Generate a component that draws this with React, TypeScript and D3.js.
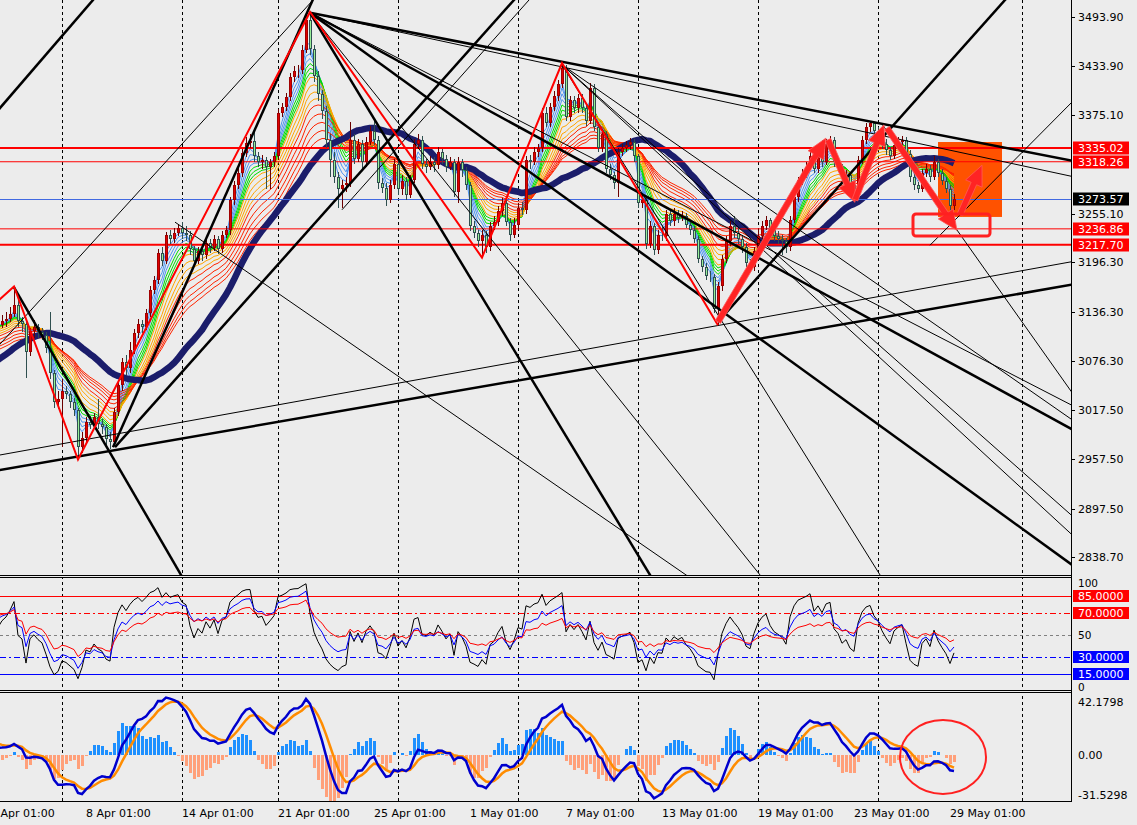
import React, { useEffect, useRef } from 'react';
import * as d3 from 'd3';

// XAUUSD H4, bar 0 = 2 Apr 13:00, last bar = 29 May 05:00
const warmupCloses = [
  3022, 3025, 3015, 3010, 3012, 3016, 3015, 3020, 3025, 3018, 3022, 3019,
  3022, 3018, 3020, 3016, 3019, 3020, 3024, 3030, 3040, 3055, 3052, 3057,
  3060, 3068, 3075, 3080, 3086, 3084, 3095, 3104, 3112, 3120, 3124, 3123,
  3135, 3146, 3130, 3118, 3112, 3114, 3116, 3120,
];

const closes = [
  3125, 3128, 3134, 3145, 3125, 3122, 3088, 3113, 3118, 3112,
  3108, 3092, 3062, 3027, 3030, 3040, 3036, 3027, 3017, 2972,
  2983, 3003, 2999, 3008, 3000, 2996, 2982, 2978, 3015, 3048,
  3075, 3068, 3090, 3110, 3122, 3118, 3135, 3163, 3175, 3208,
  3198, 3229, 3224, 3232, 3238, 3232, 3230, 3212, 3198, 3210,
  3205, 3220, 3214, 3225, 3212, 3230, 3235, 3272, 3290, 3305,
  3329, 3341, 3343, 3325, 3318, 3320, 3312, 3318, 3325, 3377,
  3385, 3397, 3421, 3428, 3430, 3454, 3490, 3455, 3422, 3400,
  3380, 3345, 3320, 3300, 3285, 3290, 3292, 3345, 3322, 3340,
  3318, 3342, 3355, 3345, 3292, 3287, 3272, 3290, 3315, 3285,
  3295, 3278, 3296, 3340, 3345, 3315, 3312, 3318, 3314, 3330,
  3322, 3312, 3318, 3282, 3318, 3308, 3290, 3240, 3232, 3222,
  3230, 3215, 3240, 3245, 3258, 3268, 3245, 3230, 3242, 3262,
  3260, 3320, 3318, 3330, 3335, 3378, 3365, 3385, 3398, 3412,
  3432, 3373, 3393, 3383, 3395, 3383, 3368, 3408, 3360, 3335,
  3352, 3310, 3302, 3292, 3330, 3335, 3338, 3342, 3325, 3268,
  3272, 3218, 3240, 3211, 3230, 3228, 3255, 3246, 3255, 3250,
  3253, 3242, 3236, 3225, 3200, 3190, 3180, 3178, 3140, 3167,
  3200, 3222, 3240, 3232, 3225, 3215, 3195, 3190, 3210, 3228,
  3240, 3247, 3235, 3228, 3225, 3222, 3215, 3248, 3275, 3296,
  3304, 3312, 3325, 3310, 3324, 3318, 3340, 3345, 3318, 3312,
  3298, 3302, 3290, 3285, 3320, 3345, 3360, 3365, 3355, 3350,
  3340, 3332, 3325, 3338, 3342, 3345, 3328, 3300, 3290, 3285,
  3305, 3310, 3300, 3318, 3305, 3295, 3285, 3264, 3273.57,
];

const highs = [
  3132, 3136, 3142, 3167, 3150, 3130, 3125, 3117, 3126, 3122,
  3116, 3112, 3136, 3066, 3040, 3055, 3046, 3040, 3032, 3020,
  2990, 3008, 3010, 3014, 3030, 3006, 3000, 2990, 3020, 3052,
  3080, 3084, 3099, 3115, 3128, 3126, 3140, 3168, 3180, 3212,
  3215, 3233, 3235, 3238, 3242, 3245, 3240, 3234, 3216, 3215,
  3216, 3226, 3224, 3230, 3228, 3234, 3240, 3276, 3295, 3312,
  3334, 3348, 3352, 3357, 3330, 3326, 3324, 3322, 3330, 3382,
  3390, 3402, 3426, 3434, 3436, 3460, 3500, 3500, 3460, 3428,
  3405, 3386, 3352, 3330, 3306, 3296, 3300, 3367, 3352, 3346,
  3345, 3348, 3362, 3370, 3350, 3298, 3292, 3296, 3322, 3320,
  3302, 3300, 3302, 3346, 3352, 3350, 3322, 3325, 3324, 3336,
  3334, 3326, 3324, 3322, 3324, 3322, 3312, 3294, 3246, 3236,
  3236, 3234, 3245, 3252, 3264, 3274, 3272, 3250, 3250, 3268,
  3270, 3325, 3326, 3336, 3340, 3383, 3385, 3390, 3404, 3418,
  3438, 3436, 3398, 3398, 3400, 3400, 3388, 3414, 3412, 3365,
  3358, 3356, 3316, 3306, 3335, 3340, 3344, 3347, 3346, 3328,
  3280, 3276, 3246, 3244, 3236, 3240, 3260, 3260, 3262, 3260,
  3258, 3256, 3246, 3240, 3228, 3204, 3195, 3186, 3182, 3172,
  3205, 3228, 3246, 3252, 3238, 3230, 3220, 3200, 3215, 3236,
  3246, 3252, 3250, 3240, 3234, 3230, 3226, 3252, 3280, 3300,
  3310, 3318, 3332, 3330, 3330, 3345, 3346, 3350, 3348, 3322,
  3316, 3308, 3306, 3294, 3325, 3350, 3365, 3366, 3366, 3360,
  3354, 3346, 3336, 3344, 3348, 3350, 3348, 3332, 3305, 3294,
  3310, 3316, 3314, 3325, 3322, 3310, 3300, 3290, 3279,
];

const lows = [
  3116, 3118, 3124, 3130, 3118, 3112, 3056, 3082, 3104, 3105,
  3102, 3086, 3055, 3020, 3018, 2972, 3030, 3020, 3010, 2957,
  2965, 2978, 2994, 2995, 2994, 2988, 2975, 2970, 2975, 3010,
  3040, 3060, 3062, 3085, 3104, 3110, 3114, 3130, 3158, 3170,
  3192, 3194, 3218, 3220, 3228, 3225, 3222, 3205, 3193, 3194,
  3198, 3200, 3208, 3210, 3206, 3208, 3226, 3230, 3266, 3285,
  3300, 3324, 3335, 3318, 3312, 3310, 3285, 3285, 3312, 3320,
  3372, 3380, 3392, 3415, 3420, 3425, 3450, 3448, 3415, 3392,
  3370, 3335, 3300, 3292, 3262, 3262, 3282, 3288, 3315, 3318,
  3310, 3312, 3338, 3338, 3285, 3280, 3265, 3268, 3285, 3278,
  3278, 3272, 3274, 3292, 3334, 3310, 3305, 3308, 3306, 3310,
  3316, 3306, 3308, 3276, 3268, 3300, 3284, 3234, 3226, 3215,
  3202, 3208, 3210, 3235, 3240, 3252, 3240, 3222, 3226, 3236,
  3254, 3255, 3310, 3314, 3324, 3330, 3360, 3360, 3380, 3392,
  3408, 3368, 3368, 3378, 3378, 3378, 3362, 3364, 3355, 3330,
  3330, 3305, 3296, 3285, 3275, 3325, 3330, 3332, 3318, 3262,
  3262, 3212, 3214, 3205, 3206, 3222, 3222, 3240, 3240, 3244,
  3246, 3238, 3230, 3220, 3195, 3184, 3175, 3172, 3135, 3120,
  3162, 3195, 3216, 3226, 3218, 3208, 3190, 3184, 3186, 3205,
  3224, 3236, 3230, 3222, 3218, 3205, 3208, 3210, 3244, 3270,
  3290, 3298, 3308, 3305, 3305, 3312, 3314, 3334, 3312, 3306,
  3292, 3292, 3286, 3282, 3282, 3316, 3340, 3354, 3348, 3344,
  3334, 3326, 3320, 3322, 3332, 3336, 3322, 3294, 3284, 3280,
  3282, 3300, 3294, 3296, 3300, 3290, 3280, 3258, 3260,
];

// axis labels
const priceTicks = [3493.9, 3433.9, 3375.1, 3255.1, 3196.3, 3136.3, 3076.3, 3017.5, 2957.5, 2897.5, 2838.7];
const timeLabels = ['2 Apr 01:00', '8 Apr 01:00', '14 Apr 01:00', '21 Apr 01:00', '25 Apr 01:00', '1 May 01:00',
  '7 May 01:00', '13 May 01:00', '19 May 01:00', '23 May 01:00', '29 May 01:00'];
const timeLabelBars = [-3, 21, 45, 69, 93, 117, 141, 165, 189, 213, 237];
const gridBars = [15, 45, 69, 99, 129, 159, 189, 219, 255];

// indicator settings
const ribbonPeriods = [3, 4, 5, 6, 7, 8, 9, 10, 12, 14, 16, 18, 21, 24, 27, 30];
const ribbonColors = ['#4f95f0', '#4f95f0', '#4f95f0', '#4f95f0', '#00dc00', '#00dc00', '#00dc00',
  '#ffa500', '#ffa500', '#ffa500', '#ffa500', '#ff2400', '#ff2400', '#ff2400', '#ff2400', '#ff2400'];
const slowMaPeriod = 32;
const rsiPeriods = [6, 12, 24];
const rsiColors = ['#000000', '#0000ff', '#ff0000'];
const rsiLevels = [85, 70, 50, 30, 15];
const macdParams = [6, 13, 5];

// horizontal price levels
const levelPrices = [3335.02, 3318.26, 3236.86, 3217.7];
const levelWidths = [2, 1, 1, 2];

// trend lines: [bar, price] -> [bar, price]
const trendFrom = [
  [-0.5, 3383.5], [-0.5, 2944.3], [-0.5, 2962.5], [27.75, 2972], [28.25, 2972], [85, 3260],
  [-0.5, 3097], [3, 3166], [77, 3499], [77, 3499], [77, 3499], [77, 3499], [77, 3499],
  [77, 3499], [140, 3436], [140, 3436], [140, 3436], [77, 3499], [43.25, 3245], [179, 3124],
  [140, 3436], [232, 3217], [220, 3364],
];
const trendTo = [
  [22.75, 3514.5], [267, 3168.7], [267, 3196.6], [76.25, 3499], [128, 3514.5], [131.75, 3514.5],
  [77.75, 3514.5], [44.75, 2817], [162, 2817], [267, 3320], [267, 3301], [267, 2995], [267, 2831],
  [267, 3024], [267, 3007], [267, 2891], [219.5, 2817], [189.5, 2817], [171, 2817], [250.75, 3514.5],
  [267, 2868], [264.5, 3376], [242.75, 3208],
];
const trendWidths = [2.5, 2.5, 1, 2.5, 2.5, 1, 1, 2.5, 2.5, 2.5, 1, 2.5, 2.5, 1, 1, 1, 1, 1, 1, 2.5, 1, 1, 1];
const trendBoth = [true, true, true, false, false, false, true, false, false, false, false, false, false,
  false, false, false, false, false, false, false, false, false, false];

// red zigzag pivots
const zigzag = [[-2, 3145], [3, 3167], [19, 2957], [77, 3500], [120, 3202], [140, 3438], [179, 3120]];

// drawn arrows [bar, price] -> [bar, price]
const arrowFrom = [[179, 3124], [206.5, 3345], [213.25, 3272], [221.25, 3359], [239.5, 3254]];
const arrowTo = [[206, 3347], [213.25, 3269], [220.5, 3363], [238.75, 3235], [245, 3314]];

const boxBars = [234, 250];
const boxPrices = [3342.2, 3251.3];
const frameBars = [227.75, 247];
const framePrices = [3254.9, 3228.2];
const circleCenter = [235.25, -1.5];
const circleRadius = [10.75, 28];

const FONT = 'DejaVu Sans, Verdana, sans-serif';

const ema = (src: number[], p: number) => {
  const a = 2 / (p + 1);
  const out: number[] = [];
  src.forEach((v, i) => out.push(i === 0 ? v : out[i - 1] + a * (v - out[i - 1])));
  return out;
};

const sma = (src: number[], p: number) =>
  src.map((_, i) => d3.mean(src.slice(Math.max(0, i - p + 1), i + 1)) as number);

const rsi = (src: number[], p: number) => {
  const out: number[] = new Array(src.length).fill(50);
  let ag = 0, al = 0;
  for (let i = 1; i < src.length; i++) {
    const d = src[i] - src[i - 1];
    const g = Math.max(d, 0), l = Math.max(-d, 0);
    if (i <= p) { ag += g / p; al += l / p; } else { ag = (ag * (p - 1) + g) / p; al = (al * (p - 1) + l) / p; }
    out[i] = al === 0 ? 100 : 100 - 100 / (1 + ag / al);
  }
  return out;
};

const App: React.FC = () => {
  const svgRef = useRef<SVGSVGElement>(null);

  useEffect(() => {
    if (!svgRef.current) return;
    const svg = d3.select(svgRef.current);
    svg.selectAll('*').remove();

    const axisX = 1071;
    const mainBot = 575, rsiTop = 578, rsiBot = 690, macdTop = 692, macdBot = 801;
    const n = closes.length;
    const off = warmupCloses.length;
    const all = warmupCloses.concat(closes);
    const opens = closes.map((c, i) => (i === 0 ? warmupCloses[off - 1] : closes[i - 1]));

    const x = d3.scaleLinear().domain([0, 1]).range([2, 6]);
    const yP = d3.scaleLinear().domain([2816.9, 3514.5]).range([mainBot, 0]);
    const yR = d3.scaleLinear().domain([0, 100]).range([690.7, 579.3]);
    const yM = d3.scaleLinear().domain([-31.5298, 42.1798]).range([796.6, 699.3]);

    svg.append('rect').attr('width', 1137).attr('height', 825).attr('fill', '#ececec');

    const defs = svg.append('defs');
    const clip = (id: string, y0: number, y1: number) =>
      defs.append('clipPath').attr('id', id).append('rect')
        .attr('x', 0).attr('y', y0).attr('width', axisX).attr('height', y1 - y0);
    clip('c-main', 0, mainBot);
    clip('c-rsi', rsiTop, rsiBot);
    clip('c-macd', macdTop, macdBot);

    const gMain = svg.append('g').attr('clip-path', 'url(#c-main)');
    const gRsi = svg.append('g').attr('clip-path', 'url(#c-rsi)');
    const gMacd = svg.append('g').attr('clip-path', 'url(#c-macd)');

    // orange zone (background object)
    gMain.append('rect')
      .attr('x', x(boxBars[0])).attr('y', yP(boxPrices[0]))
      .attr('width', x(boxBars[1]) - x(boxBars[0])).attr('height', yP(boxPrices[1]) - yP(boxPrices[0]))
      .attr('fill', '#ff5200');

    // grid
    [gMain, gRsi, gMacd].forEach((g) => {
      gridBars.forEach((b) => {
        g.append('line').attr('x1', Math.round(x(b)) + 0.5).attr('x2', Math.round(x(b)) + 0.5)
          .attr('y1', 0).attr('y2', 825).attr('stroke', '#000').attr('stroke-dasharray', '3,3')
          .attr('shape-rendering', 'crispEdges');
      });
    });

    // indicator line helper (index -1 uses warmup)
    const idx = d3.range(-1, n);
    const lineOf = (vals: number[], ys: d3.ScaleLinear<number, number>) =>
      d3.line<number>().x((i) => x(i)).y((i) => ys(vals[off + i]))(idx) as string;

    // ribbon
    ribbonPeriods.forEach((p, k) => {
      gMain.append('path').attr('d', lineOf(ema(all, p), yP)).attr('fill', 'none')
        .attr('stroke', ribbonColors[k]).attr('stroke-width', 1);
    });
    gMain.append('path').attr('d', lineOf(sma(all, slowMaPeriod), yP)).attr('fill', 'none')
      .attr('stroke', '#1b1d6b').attr('stroke-width', 6.5).attr('stroke-linejoin', 'round');

    // horizontal levels
    levelPrices.forEach((p, k) => {
      gMain.append('line').attr('x1', 0).attr('x2', axisX).attr('y1', yP(p)).attr('y2', yP(p))
        .attr('stroke', '#ff0000').attr('stroke-width', levelWidths[k]);
    });
    const bid = closes[n - 1];
    gMain.append('line').attr('x1', 0).attr('x2', axisX)
      .attr('y1', Math.round(yP(bid)) + 0.5).attr('y2', Math.round(yP(bid)) + 0.5)
      .attr('stroke', '#4169e1').attr('stroke-width', 1);

    // candles
    const cg = gMain.append('g').attr('shape-rendering', 'crispEdges');
    closes.forEach((c, i) => {
      const o = opens[i];
      const up = c >= o;
      const cx = Math.round(x(i));
      cg.append('line').attr('x1', cx + 0.5).attr('x2', cx + 0.5)
        .attr('y1', yP(highs[i])).attr('y2', yP(lows[i]))
        .attr('stroke', up ? '#6a0000' : '#2f4f4f');
      const top = Math.round(yP(Math.max(o, c)));
      const bot = Math.round(yP(Math.min(o, c)));
      cg.append('rect').attr('x', cx - 0.5).attr('y', top + 0.5)
        .attr('width', 2).attr('height', Math.max(bot - top - 1, 0))
        .attr('fill', up ? '#e00000' : '#98ee98').attr('stroke', up ? '#a00000' : '#2f4f4f');
    });

    // trend lines
    trendFrom.forEach((a, k) => {
      const b = trendTo[k];
      const x1 = x(a[0]), y1 = yP(a[1]), x2 = x(b[0]), y2 = yP(b[1]);
      const dx = x2 - x1, dy = y2 - y1;
      const s = trendBoth[k] ? -40 : 0;
      gMain.append('line').attr('x1', x1 + dx * s).attr('y1', y1 + dy * s)
        .attr('x2', x1 + dx * 40).attr('y2', y1 + dy * 40)
        .attr('stroke', '#000').attr('stroke-width', trendWidths[k]);
    });

    // zigzag
    gMain.append('path')
      .attr('d', d3.line<number[]>().x((d) => x(d[0])).y((d) => yP(d[1]))(zigzag) as string)
      .attr('fill', 'none').attr('stroke', '#ff0000').attr('stroke-width', 2);

    // arrows
    arrowFrom.forEach((a, k) => {
      const b = arrowTo[k];
      const x1 = x(a[0]), y1 = yP(a[1]), x2 = x(b[0]), y2 = yP(b[1]);
      const len = Math.hypot(x2 - x1, y2 - y1);
      const ux = (x2 - x1) / len, uy = (y2 - y1) / len;
      const nx = -uy, ny = ux;
      const hl = 20, sw = 3, hw = 9;
      const bx = x2 - ux * hl, by = y2 - uy * hl;
      const pts = [
        [x1 + nx * sw, y1 + ny * sw], [bx + nx * sw, by + ny * sw], [bx + nx * hw, by + ny * hw],
        [x2, y2], [bx - nx * hw, by - ny * hw], [bx - nx * sw, by - ny * sw], [x1 - nx * sw, y1 - ny * sw],
      ];
      gMain.append('polygon').attr('points', pts.map((p) => p.join(',')).join(' '))
        .attr('fill', '#ff2424').attr('stroke', '#ff5a5a').attr('stroke-width', 0.8);
    });

    gMain.append('rect')
      .attr('x', x(frameBars[0])).attr('y', yP(framePrices[0]))
      .attr('width', x(frameBars[1]) - x(frameBars[0])).attr('height', yP(framePrices[1]) - yP(framePrices[0]))
      .attr('rx', 3).attr('fill', 'none').attr('stroke', '#ff2020').attr('stroke-width', 3);

    // RSI panel
    const lvlStyle: Record<number, [string, string]> = {
      85: ['#ff0000', ''], 70: ['#ff0000', '6,3,2,3'], 50: ['#808080', '3,3'], 30: ['#0000ff', '6,3,2,3'], 15: ['#0000ff', ''],
    };
    rsiLevels.forEach((v) => {
      gRsi.append('line').attr('x1', 0).attr('x2', axisX)
        .attr('y1', Math.round(yR(v)) + 0.5).attr('y2', Math.round(yR(v)) + 0.5)
        .attr('stroke', lvlStyle[v][0]).attr('stroke-dasharray', lvlStyle[v][1] || null);
    });
    rsiPeriods.forEach((p, k) => {
      gRsi.append('path').attr('d', lineOf(rsi(all, p), yR)).attr('fill', 'none')
        .attr('stroke', rsiColors[k]).attr('stroke-width', 1);
    });

    // MACD panel
    const slow = ema(all, macdParams[1]);
    const dif = ema(all, macdParams[0]).map((v, i) => v - slow[i]);
    const dea = ema(dif, macdParams[2]);
    const hist = dif.map((v, i) => 2 * (v - dea[i]));
    const hg = gMacd.append('g').attr('shape-rendering', 'crispEdges');
    closes.forEach((_, i) => {
      const v = hist[off + i];
      const cx = Math.round(x(i));
      hg.append('rect').attr('x', cx - 1).attr('width', 3)
        .attr('y', Math.min(yM(v), yM(0))).attr('height', Math.abs(yM(v) - yM(0)))
        .attr('fill', v >= 0 ? '#1e90ff' : '#ffa07a');
    });
    gMacd.append('path').attr('d', lineOf(dea, yM)).attr('fill', 'none')
      .attr('stroke', '#ff8c00').attr('stroke-width', 2.5);
    gMacd.append('path').attr('d', lineOf(dif, yM)).attr('fill', 'none')
      .attr('stroke', '#0000cd').attr('stroke-width', 2.5);
    gMacd.append('ellipse')
      .attr('cx', x(circleCenter[0])).attr('cy', yM(circleCenter[1]))
      .attr('rx', x(circleCenter[0] + circleRadius[0]) - x(circleCenter[0]))
      .attr('ry', yM(circleCenter[1] - circleRadius[1]) - yM(circleCenter[1]))
      .attr('fill', 'none').attr('stroke', '#ff2020').attr('stroke-width', 2);

    // frames
    const fr = svg.append('g').attr('stroke', '#000').attr('shape-rendering', 'crispEdges');
    [mainBot, rsiTop - 1, rsiBot, macdTop, macdBot].forEach((yy) => {
      fr.append('line').attr('x1', 0).attr('x2', axisX).attr('y1', yy + 0.5).attr('y2', yy + 0.5);
    });
    fr.append('line').attr('x1', axisX + 0.5).attr('x2', axisX + 0.5).attr('y1', 0).attr('y2', macdBot + 1);

    // axis labels
    const txt = svg.append('g').attr('font-family', FONT).attr('font-size', 11);
    priceTicks.forEach((p) => {
      const yy = Math.round(yP(p));
      fr.append('line').attr('x1', axisX).attr('x2', axisX + 4).attr('y1', yy + 0.5).attr('y2', yy + 0.5);
      txt.append('text').attr('x', 1078).attr('y', yy).attr('dy', '0.36em').text(p.toFixed(2));
    });
    const tag = (yy: number, label: string, bg: string) => {
      txt.append('rect').attr('x', axisX + 2).attr('y', yy - 6.5).attr('width', 56).attr('height', 13).attr('fill', bg);
      txt.append('text').attr('x', 1078).attr('y', yy).attr('dy', '0.36em').attr('fill', '#fff').text(label);
    };
    levelPrices.forEach((p) => tag(Math.round(yP(p)), p.toFixed(2), '#ff0000'));
    tag(Math.round(yP(bid)), bid.toFixed(2), '#000000');

    [100, 50, 0].forEach((v) => {
      const yy = Math.min(Math.max(yR(v), 583), 687);
      txt.append('text').attr('x', 1078).attr('y', yy).attr('dy', '0.36em').attr('font-size', 10.5).text(String(v));
    });
    rsiLevels.filter((v) => v !== 50).forEach((v) => {
      const yy = Math.round(yR(v));
      txt.append('rect').attr('x', axisX + 2).attr('y', yy - 6).attr('width', 56).attr('height', 12)
        .attr('fill', v > 50 ? '#ff0000' : '#0000ff');
      txt.append('text').attr('x', 1078).attr('y', yy).attr('dy', '0.36em').attr('fill', '#fff').text(v.toFixed(4));
    });
    [42.1798, 0, -31.5298].forEach((v) => {
      const yy = Math.min(Math.max(yM(v), 702), 795);
      txt.append('text').attr('x', 1078).attr('y', yy).attr('dy', '0.36em').text(v === 0 ? '0.00' : v.toFixed(4));
    });

    timeLabels.forEach((t, k) => {
      txt.append('text').attr('x', x(timeLabelBars[k])).attr('y', 817).text(t);
    });
  }, []);

  return (
    <svg ref={svgRef} width={1137} height={825}
      style={{ position: 'absolute', left: 0, top: 0, display: 'block' }} />
  );
};

export default App;
